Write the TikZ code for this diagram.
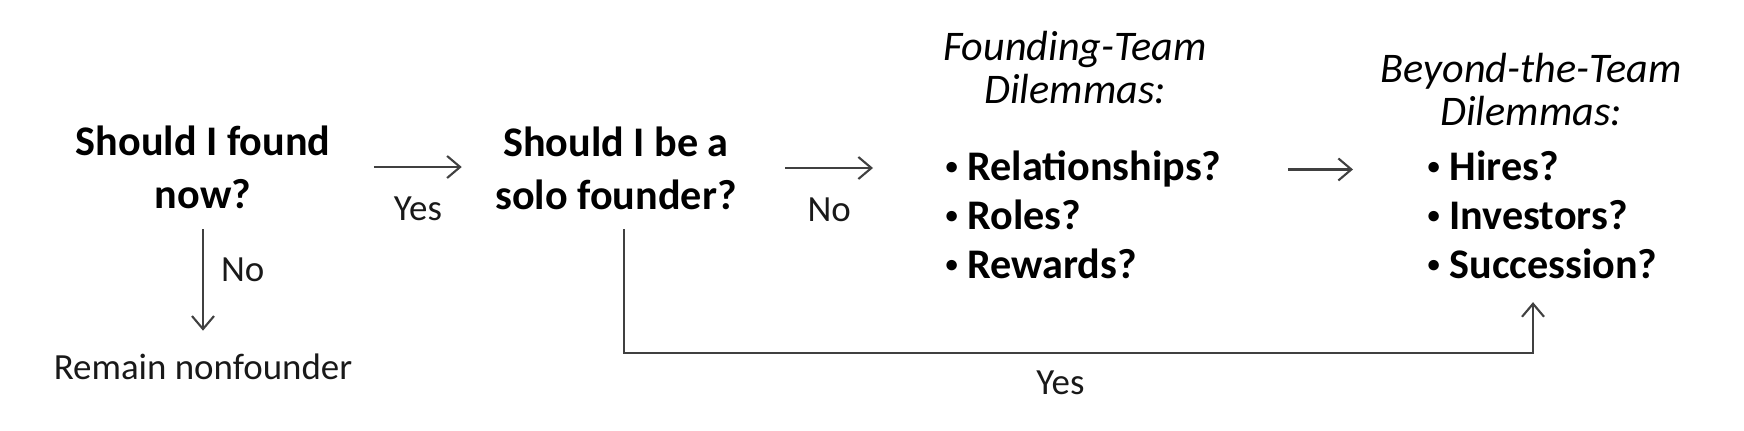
\documentclass[tikz,border=0pt]{standalone}
\usepackage{fontspec}
\setmainfont{Carlito}
\usetikzlibrary{arrows.meta}

\newcommand\dotitem{\makebox[6.2pt][l]{\raisebox{1.6pt}{\fontsize{7}{7}\selectfont •}}}

\tikzset{
  question/.style={font=\fontsize{12}{15}\selectfont\bfseries, align=center, inner sep=0pt, anchor=base},
  heading/.style={font=\fontsize{12}{12.2}\selectfont\itshape, align=center, inner sep=0pt, anchor=base},
  item/.style={font=\fontsize{12}{14}\selectfont\bfseries, inner sep=0pt, anchor=base west, text height=8.4pt, text depth=2.4pt},
  answer/.style={font=\fontsize{10.5}{12}\selectfont, inner sep=0pt, text=black!90},
  flow/.style={-{Straight Barb[length=1.3mm,width=2.2mm]}, line width=0.6pt, black!75}
}

\begin{document}
\begin{tikzpicture}
\useasboundingbox (0,0) rectangle (17.44,-4.30);
% questions (base = last line)
\node[question] (found) at (2.03,-2.08) {Should I found\\now?};
\node[question] (solo) at (6.16,-2.09) {Should I be a\\solo founder?};
\node[answer, anchor=base] (remain) at (2.03,-3.79) {Remain nonfounder};
% founding team
\node[heading] (teamhead) at (10.75,-1.03) {Founding-Team\\Dilemmas:};
\node[item] (rel) at (9.45,-1.80) {\dotitem Relationships?};
\node[item] (roles) at (9.45,-2.29) {\dotitem Roles?};
\node[item] (rewards) at (9.45,-2.78) {\dotitem Rewards?};
% beyond the team
\node[heading] (beyondhead) at (15.31,-1.25) {Beyond-the-Team\\Dilemmas:};
\node[item] (hires) at (14.27,-1.80) {\dotitem Hires?};
\node[item] (investors) at (14.27,-2.29) {\dotitem Investors?};
\node[item] (succession) at (14.27,-2.78) {\dotitem Succession?};
% arrows
\draw[flow] ([xshift=4.3mm]found.east) -- node[answer, below=2.9mm] {Yes} ([xshift=-3.3mm]solo.west |- found.east);
\draw[flow] ([yshift=-2mm]found.south) -- node[answer, pos=0.4, right=1.7mm] {No} ([yshift=2.2mm]remain.north -| found.south);
\draw[flow] ([xshift=4.8mm]solo.east) -- node[answer, below=2.9mm] {No} ([xshift=-7.2mm]rel.west |- solo.east);
\draw[flow] ([xshift=6.6mm]rel.east) -- ([xshift=-7.4mm]hires.west);
\draw[flow] ([xshift=0.8mm,yshift=-1.9mm]solo.south) -- ++(0,-1.24) -| node[answer, pos=0.24, below=1.7mm] {Yes} ([xshift=10.6mm,yshift=-1.5mm]succession.south west);
\end{tikzpicture}
\end{document}
